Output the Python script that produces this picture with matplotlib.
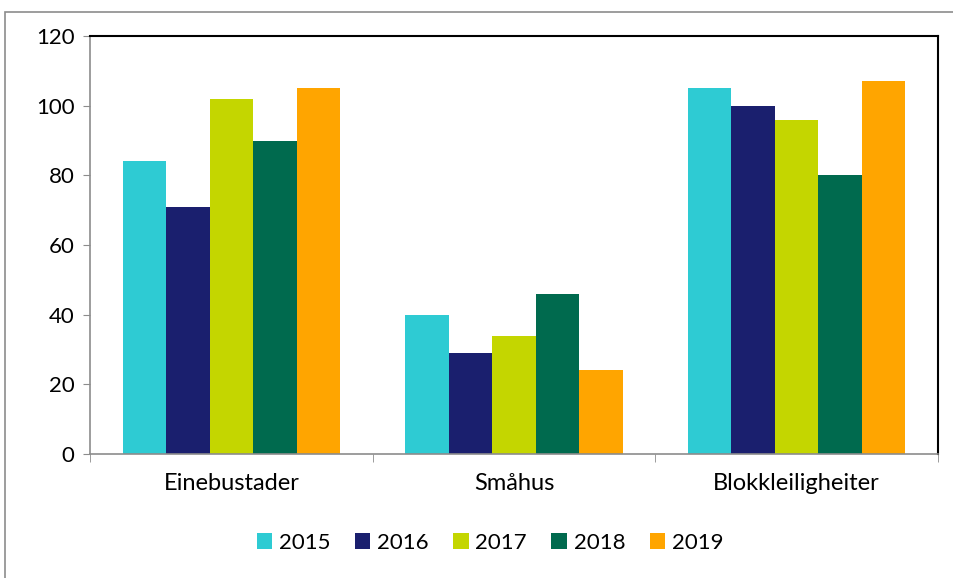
import matplotlib.pyplot as plt
import numpy as np
from matplotlib.patches import Rectangle

categories = ['Einebustader', 'Småhus', 'Blokkleiligheiter']
years = ['2015', '2016', '2017', '2018', '2019']
v2015 = [84, 40, 105]
v2016 = [71, 29, 100]
v2017 = [102, 34, 96]
v2018 = [90, 46, 80]
v2019 = [105, 24, 107]
series = [v2015, v2016, v2017, v2018, v2019]
colors = ['#2ECBD3', '#1A1F6E', '#C4D600', '#006A4E', '#FFA500']

plt.rcParams['font.family'] = ['Lato', 'DejaVu Sans']

fig = plt.figure(figsize=(9.54, 5.78), dpi=100)
ax = fig.add_axes([90/954, 1-454/578, 848/954, 418/578])

# outer chart border
fig.patches.append(Rectangle((5/954, -0.01), 1.0, 1-12/578+0.01, transform=fig.transFigure,
                             fill=False, edgecolor='#8c8c8c', linewidth=1.2))

x = np.arange(len(categories))
w = 0.154
for i, (yr, vals, c) in enumerate(zip(years, series, colors)):
    ax.bar(x + (i - 2) * w, vals, width=w, color=c, label=yr)

ax.set_xlim(-0.5, 2.5)
ax.set_ylim(0, 120)
ax.set_yticks(range(0, 121, 20))
ax.set_xticks(x)
ax.set_xticklabels(categories)
ax.set_xticks([-0.5, 0.5, 1.5, 2.5], minor=True)
ax.tick_params(axis='x', which='major', length=0, pad=14, labelsize=17)
ax.tick_params(axis='x', which='minor', length=6, color='#8c8c8c', direction='out')
ax.tick_params(axis='y', length=5, color='#8c8c8c', labelsize=16, pad=6)

for s in ['top', 'right']:
    ax.spines[s].set_color('black')
    ax.spines[s].set_linewidth(1.5)
for s in ['left', 'bottom']:
    ax.spines[s].set_color('#8c8c8c')
    ax.spines[s].set_linewidth(1.2)

ax.legend(loc='center', bbox_to_anchor=(490/954, 1-543/578), bbox_transform=fig.transFigure,
          ncol=5, frameon=False, fontsize=16, handlelength=0.7, handleheight=0.7,
          handletextpad=0.3, columnspacing=1.1)

fig.savefig('out.png', dpi=100)
